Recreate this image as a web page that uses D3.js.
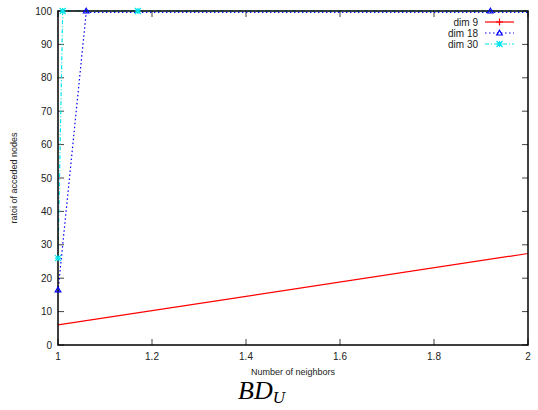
<!DOCTYPE html>
<html><head><meta charset="utf-8">
<script src="https://cdn.jsdelivr.net/npm/d3@7"></script>
<style>body{margin:0;background:#fff;} text{font-family:"Liberation Sans",Arial,sans-serif;}</style>
</head><body><svg id="c" width="538" height="410"></svg>
<script>
const xTicks = [1, 1.2, 1.4, 1.6, 1.8, 2];
const yTicks = [0, 10, 20, 30, 40, 50, 60, 70, 80, 90, 100];
const seriesNames = ["dim 9", "dim 18", "dim 30"];
const dim9X = [1, 2];
const dim9Y = [6, 27.4];
const dim18X = [1, 1.06, 1.92, 2];
const dim18Y = [16.5, 100, 100, 100];
const dim30X = [1, 1.01, 1.17, 2];
const dim30Y = [26, 100, 100, 100];

const svg = d3.select("#c");
const L = 58, R = 528, T = 11, B = 345;
const x = d3.scaleLinear().domain([1, 2]).range([L, R]);
const y = d3.scaleLinear().domain([0, 100]).range([B, T]);

svg.append("defs").append("clipPath").attr("id","clip").append("rect")
  .attr("x", L).attr("y", T-3).attr("width", R-L).attr("height", B-T+3);

const tk = 6;
const g = svg.append("g");
yTicks.forEach(v => {
  g.append("line").attr("x1", L).attr("x2", L+tk).attr("y1", y(v)).attr("y2", y(v)).attr("stroke", "#444").attr("stroke-width", 1);
  g.append("line").attr("x1", R).attr("x2", R-tk).attr("y1", y(v)).attr("y2", y(v)).attr("stroke", "#444").attr("stroke-width", 1);
  g.append("text").attr("x", L-6).attr("y", y(v)+3.5).attr("text-anchor","end").attr("font-size", 10).attr("fill","#222").text(v);
});
xTicks.forEach(v => {
  g.append("line").attr("x1", x(v)).attr("x2", x(v)).attr("y1", B).attr("y2", B-tk).attr("stroke", "#444").attr("stroke-width", 1);
  g.append("line").attr("x1", x(v)).attr("x2", x(v)).attr("y1", T).attr("y2", T+tk).attr("stroke", "#444").attr("stroke-width", 1);
  g.append("text").attr("x", x(v)).attr("y", B+15).attr("text-anchor","middle").attr("font-size", 10).attr("fill","#222").text(v);
});

const line = d3.line().x(d => x(d[0])).y(d => y(d[1]));
const plot = svg.append("g").attr("clip-path", "url(#clip)");

function tri(sel, cx, cy, col) {
  sel.append("path").attr("d", `M${cx},${cy-2.8}L${cx+2.8},${cy+2}L${cx-2.8},${cy+2}Z`)
    .attr("fill", "none").attr("stroke", col).attr("stroke-width", 1.2);
}
function star(sel, cx, cy, col) {
  const s = 3;
  const p = `M${cx-s},${cy}L${cx+s},${cy}M${cx},${cy-s}L${cx},${cy+s}M${cx-s},${cy-s}L${cx+s},${cy+s}M${cx-s},${cy+s}L${cx+s},${cy-s}`;
  sel.append("path").attr("d", p).attr("stroke", col).attr("stroke-width", 1.2).attr("fill","none");
}
function plus(sel, cx, cy, col) {
  const s = 3.5;
  sel.append("path").attr("d", `M${cx-s},${cy}L${cx+s},${cy}M${cx},${cy-s}L${cx},${cy+s}`).attr("stroke", col).attr("stroke-width", 1.2);
}

plot.append("path").datum(d3.zip(dim9X, dim9Y)).attr("d", line).attr("fill","none").attr("stroke","#ff0000").attr("stroke-width",1.2);
plot.append("path").datum(d3.zip(dim30X, dim30Y)).attr("d", line).attr("fill","none").attr("stroke","#00e5ee").attr("stroke-width",1.2).attr("stroke-dasharray","4,2,1,2");
plot.append("path").datum(d3.zip(dim18X, dim18Y)).attr("d", line).attr("fill","none").attr("stroke","#0000ff").attr("stroke-width",1.2).attr("stroke-dasharray","1.5,2.5")
  .attr("transform","translate(0,1.5)");

svg.append("rect").attr("x", L).attr("y", T).attr("width", R-L).attr("height", B-T).attr("fill","none").attr("stroke","#000").attr("stroke-width",1.5);

const mk = svg.append("g");
d3.zip(dim30X, dim30Y).forEach(d => { if (d[0] < 2) star(mk, x(d[0]), y(d[1]), "#00e5ee"); });
d3.zip(dim18X, dim18Y).forEach(d => { if (d[0] < 2) tri(mk, x(d[0]), y(d[1]), "#0000ff"); });

const leg = svg.append("g");
const cols = ["#ff0000", "#0000ff", "#00e5ee"];
const dashes = [null, "1.5,2.5", "4,2,1,2"];
seriesNames.forEach((n, i) => {
  const ly = 22 + i * 11;
  leg.append("text").attr("x", 478).attr("y", ly+3.5).attr("text-anchor","end").attr("font-size", 10).attr("fill","#222").text(n);
  leg.append("line").attr("x1", 485).attr("x2", 514).attr("y1", ly).attr("y2", ly).attr("stroke", cols[i]).attr("stroke-width", 1.2).attr("stroke-dasharray", dashes[i]);
  if (i === 0) plus(leg, 499.5, ly, cols[i]);
  if (i === 1) tri(leg, 499.5, ly, cols[i]);
  if (i === 2) star(leg, 499.5, ly, cols[i]);
});

svg.append("text").attr("x", 293).attr("y", 375).attr("text-anchor","middle").attr("font-size", 9).attr("fill","#222").text("Number of neighbors");
svg.append("text").attr("transform", "translate(17,178) rotate(-90)").attr("text-anchor","middle").attr("font-size", 9).attr("fill","#222").text("ratoi of acceded nodes");

const t = svg.append("text").attr("x", 238).attr("y", 399).style("font-family", "'Liberation Serif','DejaVu Serif',serif").attr("font-style","italic").attr("font-size", 26).attr("fill","#000");
t.append("tspan").text("BD");
t.append("tspan").attr("font-size", 17).attr("dy", 4).text("U");
</script></body></html>
